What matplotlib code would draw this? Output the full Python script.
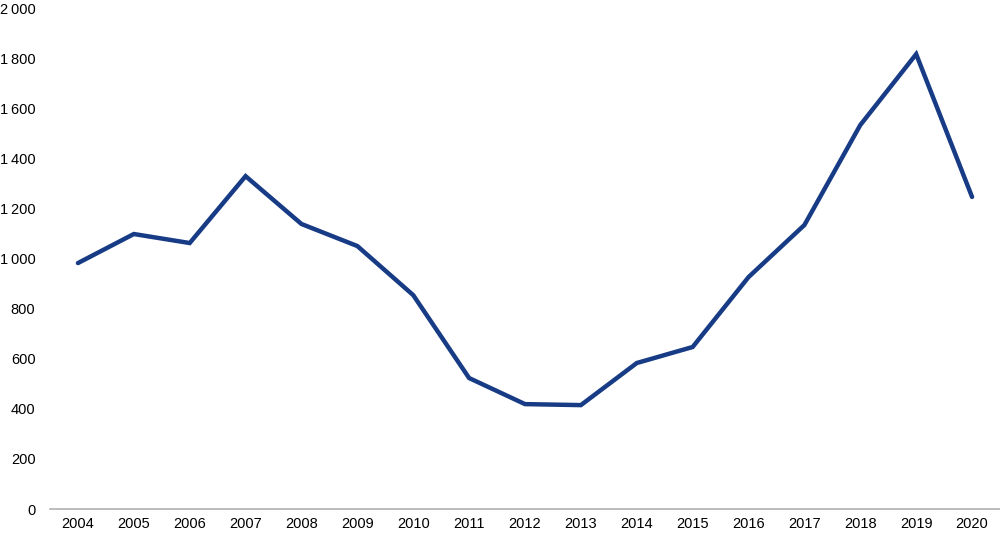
import matplotlib
matplotlib.use("Agg")
import matplotlib.pyplot as plt
from matplotlib.ticker import FuncFormatter

years = ["2004", "2005", "2006", "2007", "2008", "2009", "2010", "2011", "2012",
         "2013", "2014", "2015", "2016", "2017", "2018", "2019", "2020"]
values = [982, 1098, 1062, 1329, 1138, 1050, 854, 523, 419, 415, 583, 647, 926,
          1134, 1533, 1816, 1246]

plt.rcParams['font.family'] = ['Liberation Sans', 'DejaVu Sans']

fig = plt.figure(figsize=(10, 5.37), dpi=100)
ax = fig.add_axes([0.05, 0.052, 0.95, 0.933])
x = list(range(len(years)))
ax.plot(x, values, color="#173c85", linewidth=3.2, solid_joinstyle="miter",
        solid_capstyle="round")
ax.set_xlim(-0.5, len(years) - 0.5)
ax.set_ylim(0, 2000)
ax.set_yticks(range(0, 2001, 200))
ax.yaxis.set_major_formatter(FuncFormatter(lambda v, p: f"{int(v):,}".replace(",", "\u2009")))
ax.set_xticks(x)
ax.set_xticklabels(years)
for s in ["top", "right", "left"]:
    ax.spines[s].set_visible(False)
ax.spines["bottom"].set_color("#b0b0b0")
ax.spines["bottom"].set_linewidth(1.2)
ax.tick_params(axis="both", length=0, labelsize=10.5, colors="#000000")
ax.tick_params(axis="y", pad=10.5)
ax.tick_params(axis="x", pad=6)
fig.savefig("out.png", dpi=100)
